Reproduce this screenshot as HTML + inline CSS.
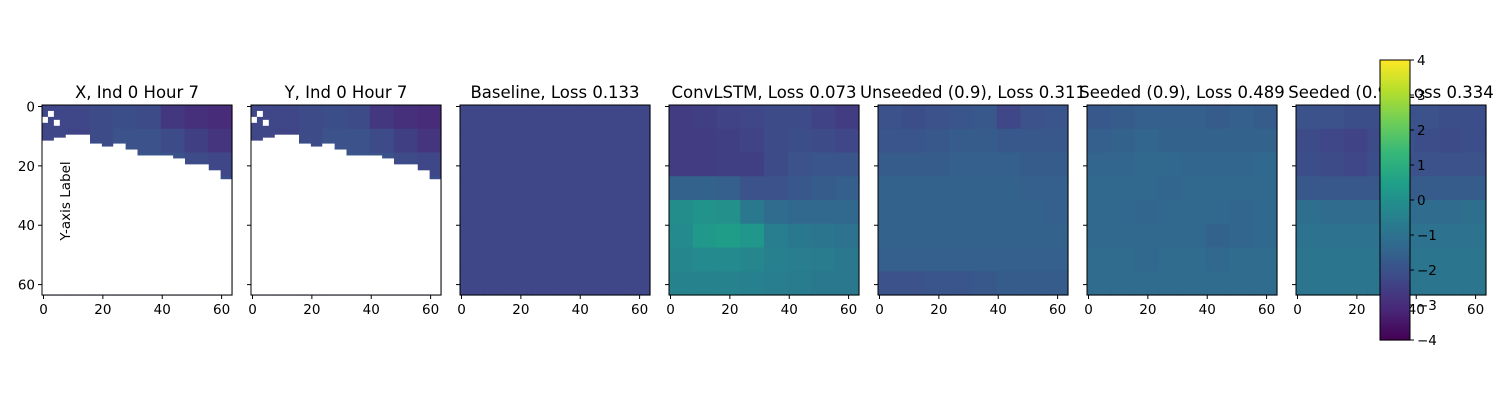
<!DOCTYPE html>
<html><head><meta charset="utf-8"><style>
html,body{margin:0;padding:0;background:#fff;width:1500px;height:400px;overflow:hidden}
svg text{font-family:"DejaVu Sans","Liberation Sans",sans-serif}
</style></head><body>
<svg id="fig" width="1500" height="400" xmlns="http://www.w3.org/2000/svg"></svg>
<script>
const titles=["X, Ind 0 Hour 7","Y, Ind 0 Hour 7","Baseline, Loss 0.133","ConvLSTM, Loss 0.073","Unseeded (0.9), Loss 0.311","Seeded (0.9), Loss 0.489","Seeded (0.9), Loss 0.334"];
const xTicks=[0,20,40,60];
const yTicks=[0,20,40,60];
const cbTicks=[-4,-3,-2,-1,0,1,2,3,4];
// first masked row per 4-column group (white below)
const maskRows=[12,11,10,10,13,14,13,15,17,17,17,18,20,20,22,25];
const gridX=[
[-2.3,-2.3,-2.2,-2.1,-2.2,-2.7,-2.9,-3.0],
[-2.3,-2.4,-2.2,-2.0,-2.0,-2.2,-2.5,-2.8],
[-2.6,-2.5,-2.3,-2.0,-1.9,-2.0,-2.2,-2.3],
[-2.6,-2.5,-2.4,-2.2,-2.0,-1.9,-2.0,-2.1],
[-2.3,-2.3,-2.3,-2.3,-2.2,-2.1,-2.1,-2.1],
[-2.3,-2.3,-2.3,-2.3,-2.2,-2.1,-2.1,-2.1],
[-2.3,-2.3,-2.3,-2.3,-2.2,-2.1,-2.1,-2.1],
[-2.3,-2.3,-2.3,-2.3,-2.2,-2.1,-2.1,-2.1]];
const gridBase=[
[-2.3,-2.3,-2.3,-2.3,-2.3,-2.3,-2.3,-2.3],[-2.3,-2.3,-2.3,-2.3,-2.3,-2.3,-2.3,-2.3],
[-2.3,-2.3,-2.3,-2.3,-2.3,-2.3,-2.3,-2.3],[-2.3,-2.3,-2.3,-2.3,-2.3,-2.3,-2.3,-2.3],
[-2.3,-2.3,-2.3,-2.3,-2.3,-2.3,-2.3,-2.3],[-2.3,-2.3,-2.3,-2.3,-2.3,-2.3,-2.3,-2.3],
[-2.3,-2.3,-2.3,-2.3,-2.3,-2.3,-2.3,-2.3],[-2.3,-2.3,-2.3,-2.3,-2.3,-2.3,-2.3,-2.3]];
const gridConv=[
[-2.6,-2.5,-2.4,-2.3,-2.2,-2.2,-2.4,-2.6],
[-2.6,-2.6,-2.5,-2.4,-2.2,-2.1,-2.2,-2.3],
[-2.6,-2.6,-2.5,-2.5,-2.2,-2.0,-1.9,-1.9],
[-1.5,-1.5,-1.6,-2.0,-2.0,-1.8,-1.7,-1.6],
[-0.1,0.1,0.0,-0.8,-1.2,-1.3,-1.3,-1.3],
[-0.2,0.3,0.4,0.2,-0.6,-0.8,-0.9,-1.0],
[-0.3,-0.2,-0.2,-0.3,-0.5,-0.6,-0.7,-0.8],
[-0.4,-0.4,-0.4,-0.5,-0.6,-0.7,-0.8,-0.8]];
const gridUns=[
[-2.0,-2.1,-2.0,-1.9,-1.8,-2.3,-2.0,-1.9],
[-1.9,-1.9,-1.8,-1.7,-1.7,-1.8,-1.8,-1.8],
[-1.7,-1.7,-1.7,-1.6,-1.6,-1.6,-1.7,-1.7],
[-1.5,-1.5,-1.5,-1.5,-1.5,-1.5,-1.6,-1.6],
[-1.5,-1.5,-1.5,-1.5,-1.5,-1.5,-1.5,-1.6],
[-1.5,-1.5,-1.5,-1.5,-1.5,-1.5,-1.5,-1.5],
[-1.6,-1.6,-1.6,-1.6,-1.6,-1.6,-1.6,-1.6],
[-2.0,-2.0,-1.9,-1.9,-1.8,-1.7,-1.7,-1.7]];
const gridSeed=[
[-1.8,-1.7,-1.6,-1.6,-1.6,-1.7,-1.6,-1.7],
[-1.6,-1.5,-1.4,-1.5,-1.5,-1.5,-1.5,-1.5],
[-1.4,-1.4,-1.3,-1.3,-1.4,-1.4,-1.4,-1.3],
[-1.3,-1.3,-1.3,-1.4,-1.3,-1.3,-1.3,-1.3],
[-1.3,-1.3,-1.4,-1.3,-1.3,-1.3,-1.4,-1.3],
[-1.3,-1.3,-1.3,-1.3,-1.3,-1.5,-1.4,-1.3],
[-1.2,-1.2,-1.3,-1.2,-1.2,-1.3,-1.2,-1.2],
[-1.2,-1.2,-1.2,-1.2,-1.2,-1.2,-1.2,-1.2]];
const gridSeed2=[
[-2.0,-2.0,-2.1,-2.1,-2.0,-2.0,-2.1,-2.1],
[-2.2,-2.3,-2.4,-2.2,-2.0,-2.1,-2.2,-2.1],
[-2.1,-2.2,-2.3,-2.1,-2.0,-2.0,-2.0,-2.0],
[-1.8,-1.8,-1.8,-1.8,-1.7,-1.7,-1.7,-1.7],
[-1.1,-1.2,-1.2,-1.2,-1.2,-1.2,-1.2,-1.1],
[-1.0,-1.0,-1.0,-1.0,-1.0,-1.0,-1.0,-1.0],
[-0.9,-0.9,-0.9,-0.9,-0.9,-0.9,-0.9,-0.9],
[-0.9,-0.9,-0.9,-0.9,-0.9,-0.9,-0.9,-0.9]];
const grids=[gridX,gridX,gridBase,gridConv,gridUns,gridSeed,gridSeed2];
const masked=[true,true,false,false,false,false,false];

const VIR=[[68,1,84],[72,40,120],[62,74,137],[49,104,142],[38,130,142],[31,158,137],[53,183,121],[109,205,89],[180,222,44],[253,231,37]];
function viridis(v){let t=Math.max(0,Math.min(1,(v+4)/8))*(VIR.length-1);let i=Math.min(VIR.length-2,Math.floor(t)),f=t-i;
 const c=VIR[i].map((a,k)=>Math.round(a+(VIR[i+1][k]-a)*f));return `rgb(${c[0]},${c[1]},${c[2]})`;}
const NS="http://www.w3.org/2000/svg";
const svg=document.getElementById('fig');
function el(tag,attrs,parent){const e=document.createElementNS(NS,tag);for(const k in attrs)e.setAttribute(k,attrs[k]);(parent||svg).appendChild(e);return e;}
const PW=190,PT=105,STEP=209,L0=42;
function sx(left,v){return left+(v+0.5)*PW/64;}
function sy(v){return PT+(v+0.5)*PW/64;}
titles.forEach((t,p)=>{
 const left=L0+p*STEP;
 const g=el('g',{});
 
 
 const grid=grids[p];const n=grid.length;const cs=64/n;
 grid.forEach((row,r)=>row.forEach((v,c)=>{
  const x0=sx(left,c*cs-0.5),y0=sy(r*cs-0.5);
  const rc=el('rect',{x:x0,y:y0,width:PW/n+0.6,height:PW/n+0.6,fill:viridis(v)},g);
  
  
 }));
 if(masked[p]){
  maskRows.forEach((mr,i)=>{
   const m=el('rect',{x:sx(left,i*4-0.5),y:sy(mr-0.5),width:PW/16+0.5,height:PT+PW-sy(mr-0.5),fill:'#fff'},g);
   
   
  });
  [[0,4],[2,2],[4,5]].forEach(([c,r])=>{el('rect',{x:sx(left,c-0.5),y:sy(r-0.5),width:PW/64*2,height:PW/64*2,fill:'#fff'},g);});
 }
 el('rect',{x:left,y:PT,width:PW,height:PW,fill:'none',stroke:'#000','stroke-width':1},g);
 const tt=el('text',{x:left+PW/2,y:98,'text-anchor':'middle','font-size':16.5,fill:'#000'},g);tt.textContent=t;
 
 
 xTicks.forEach(v=>{const x=sx(left,v);el('line',{x1:x,x2:x,y1:PT+PW,y2:PT+PW+4,stroke:'#000'},g);
  const lb=el('text',{x:x,y:PT+PW+19,'text-anchor':'middle','font-size':13.5},g);lb.textContent=v;
  
  });
 yTicks.forEach(v=>{const y=sy(v);el('line',{x1:left-4,x2:left,y1:y,y2:y,stroke:'#000'},g);
  if(p===0){const lb=el('text',{x:left-7,y:y+5,'text-anchor':'end','font-size':13.5},g);lb.textContent=v;
  
  }});
});
const yl=el('text',{x:70,y:201,'text-anchor':'middle','font-size':13.5,transform:'rotate(-90 70 201)'});yl.textContent='Y-axis Label';


// colorbar
const CBX=1380,CBW=30,CBT=60,CBH=280;
const cb=el('g',{});


for(let i=0;i<140;i++){const v=4-8*(i+0.5)/140;el('rect',{x:CBX,y:CBT+i*CBH/140,width:CBW,height:CBH/140+0.6,fill:viridis(v)},cb);}
el('rect',{x:CBX,y:CBT,width:CBW,height:CBH,fill:'none',stroke:'#000'},cb);
cbTicks.forEach(v=>{const y=CBT+(4-v)/8*CBH;el('line',{x1:CBX+CBW,x2:CBX+CBW+4,y1:y,y2:y,stroke:'#000'},cb);
 const lb=el('text',{x:CBX+CBW+7,y:y+5,'font-size':13.5},cb);lb.textContent=v<0?'\u2212'+(-v):v;
 
 });
</script>
</body></html>
